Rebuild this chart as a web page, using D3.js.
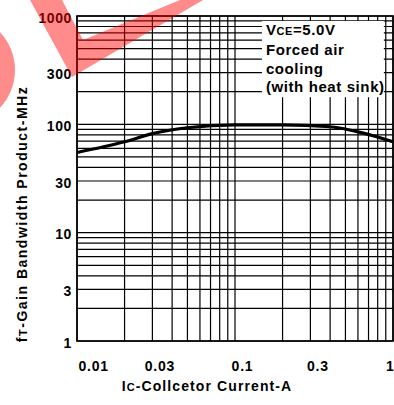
<!DOCTYPE html>
<html>
<head>
<meta charset="utf-8">
<script src="https://cdn.jsdelivr.net/npm/d3@7"></script>
<style>
  body { margin: 0; background: #fff; }
  text { font-family: "Liberation Sans", Arial, sans-serif; font-weight: bold; fill: #000; }
</style>
</head>
<body>
<svg id="chart" width="394" height="405"></svg>
<script>
// data
const currentA = [0.01, 0.02, 0.03, 0.05, 0.1, 0.2, 0.4, 0.65, 1];
const ftMHz = [55, 69, 82, 93, 99, 99, 95, 83, 69];

const xTicks = [0.01, 0.03, 0.1, 0.3, 1];
const xTickLabels = ["0.01", "0.03", "0.1", "0.3", "1"];
const yTicks = [1, 3, 10, 30, 100, 300, 1000];
const yTickLabels = ["1", "3", "10", "30", "100", "300", "1000"];
const noteLines = ["Forced air", "cooling", "(with heat sink)"];

var svg = d3.select("#chart"),
  margin = { top: 16, right: 1, bottom: 64, left: 77 },
  width = +svg.attr("width"),
  height = +svg.attr("height");

var x = d3.scaleLog()
  .domain([0.01, 1])
  .range([margin.left, width - margin.right]);
var y = d3.scaleLog()
  .domain([1, 1000])
  .range([height - margin.bottom, margin.top]);

// grid
var grid = svg.append("g").attr("stroke", "#000").attr("stroke-width", 1.2);
grid.selectAll("line.v")
  .data(x.ticks())
  .join("line")
  .attr("class", "v")
  .attr("x1", d => x(d)).attr("x2", d => x(d))
  .attr("y1", y(1000)).attr("y2", y(1));
grid.selectAll("line.h")
  .data(y.ticks())
  .join("line")
  .attr("class", "h")
  .attr("x1", x(0.01)).attr("x2", x(1))
  .attr("y1", d => y(d)).attr("y2", d => y(d));

// frame
svg.append("rect")
  .attr("x", x(0.01)).attr("y", y(1000))
  .attr("width", x(1) - x(0.01)).attr("height", y(1) - y(1000))
  .attr("fill", "none").attr("stroke", "#000").attr("stroke-width", 1.6);

// curve
var line = d3.line()
  .curve(d3.curveMonotoneX)
  .x((d, i) => x(currentA[i]))
  .y(d => y(d));
svg.append("path")
  .attr("d", line(ftMHz))
  .attr("fill", "none")
  .attr("stroke", "#000")
  .attr("stroke-width", 3.2);

// condition note on a white patch
var bx0 = x(0.148), bx1 = x(0.875), by0 = y(900), by1 = y(178);
svg.append("rect")
  .attr("x", bx0).attr("y", by0)
  .attr("width", bx1 - bx0).attr("height", by1 - by0)
  .attr("fill", "#fff");

var note = svg.append("g").attr("font-size", 15).style("letter-spacing", "0.6px");
var vce = note.append("text").attr("x", bx0 + 4).attr("y", 35);
vce.append("tspan").text("V");
vce.append("tspan").attr("font-size", 11).text("CE");
vce.append("tspan").text("=5.0V");
note.selectAll("text.ln")
  .data(noteLines)
  .join("text")
  .attr("class", "ln")
  .attr("x", bx0 + 4)
  .attr("y", (d, i) => 55 + i * 18.7)
  .text(d => d);

// y axis labels
var yAxis = svg.append("g")
  .attr("transform", "translate(" + (margin.left - 5) + ",0)")
  .call(d3.axisLeft(y).tickValues(yTicks).tickFormat((d, i) => yTickLabels[i]).tickSize(0).tickPadding(0));
yAxis.select(".domain").remove();
yAxis.selectAll("text")
  .attr("font-size", 14)
  .attr("font-family", null)
  .attr("dy", "0.45em")
  .style("letter-spacing", "0.6px");

// x axis labels
var xAxis = svg.append("g")
  .attr("transform", "translate(0," + (height - margin.bottom) + ")")
  .call(d3.axisBottom(x).tickValues(xTicks).tickFormat((d, i) => xTickLabels[i]).tickSize(0).tickPadding(20));
xAxis.select(".domain").remove();
xAxis.selectAll("text")
  .attr("font-size", 14)
  .attr("font-family", null)
  .attr("dx", 7)
  .style("letter-spacing", "0.8px");
xAxis.selectAll("text").filter((d, i) => i === 0).attr("text-anchor", "start").attr("dx", 1);
xAxis.selectAll("text").filter((d, i) => i === xTicks.length - 1).attr("text-anchor", "end").attr("dx", 1);

// axis titles
var xt = svg.append("text")
  .attr("x", 207).attr("y", 391)
  .attr("text-anchor", "middle")
  .attr("font-size", 14)
  .style("letter-spacing", "1.1px");
xt.append("tspan").text("I");
xt.append("tspan").attr("font-size", 11).text("C");
xt.append("tspan").text("-Collcetor Current-A");

var yt = svg.append("text")
  .attr("transform", "translate(27,214) rotate(-90)")
  .attr("text-anchor", "middle")
  .attr("font-size", 14)
  .style("letter-spacing", "1.5px");
yt.append("tspan").text("f");
yt.append("tspan").attr("font-size", 11).text("T");
yt.append("tspan").text("-Gain Bandwidth Product-MHz");

// pink watermark over everything
var wm = svg.append("g").attr("fill", "#ff0000").attr("opacity", 0.45);
wm.append("path").attr("d", "M30,0 L62,0 L83,40 L180,0 L203,0 L72,77 Z");
wm.append("circle").attr("cx", -40).attr("cy", 70).attr("r", 55);
</script>
</body>
</html>
